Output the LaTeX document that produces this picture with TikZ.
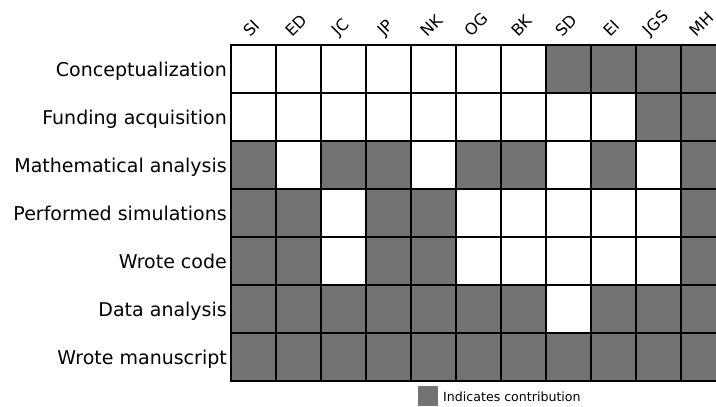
\documentclass[tikz,border=0pt]{standalone}
\usepackage{fontspec}
\setmainfont{DejaVu Sans}
\definecolor{cellgray}{RGB}{115,115,115}
\begin{document}
\begin{tikzpicture}[x=1pt,y=1pt,
  cell/.style={draw=black, line width=1.3pt, minimum width=45pt, minimum height=48pt,
    inner sep=0pt, outer sep=0pt, anchor=north west},
  rowlab/.style={anchor=base east, inner sep=0pt, font=\fontsize{19}{22}\selectfont},
  collab/.style={anchor=center, inner sep=0pt, rotate=45, font=\fontsize{16}{19}\selectfont},
  legbox/.style={fill=cellgray, minimum size=20pt, inner sep=0pt, outer sep=0pt, anchor=north west},
  legtext/.style={anchor=west, inner sep=0pt, font=\fontsize{12.6}{15}\selectfont}]
\useasboundingbox (0,0) rectangle (716,-407);
\clip (0,0) rectangle (716,-407);
% grid cells
\foreach \r/\row in {
  1/{0,0,0,0,0,0,0,1,1,1,1},
  2/{0,0,0,0,0,0,0,0,0,1,1},
  3/{1,0,1,1,0,1,1,0,1,0,1},
  4/{1,1,0,1,1,0,0,0,0,0,1},
  5/{1,1,0,1,1,0,0,0,0,0,1},
  6/{1,1,1,1,1,1,1,0,1,1,1},
  7/{1,1,1,1,1,1,1,1,1,1,1}} {
  \foreach \v [count=\c] in \row {
    \def\fillc{white}
    \ifnum\v=1 \def\fillc{cellgray}\fi
    \node[cell, fill=\fillc] (c\r-\c) at ({231+45*(\c-1)}, {-(45+48*(\r-1))}) {};
  }
}
% row labels
\foreach \r/\t in {1/Conceptualization, 2/Funding acquisition, 3/Mathematical analysis,
  4/Performed simulations, 5/Wrote code, 6/Data analysis, 7/Wrote manuscript} {
  \node[rowlab] (row\r) at (227, {-(69+48*(\r-1)+7.5)}) {\t};
}
% column labels
\foreach \c/\t/\w in {1/SI/0.93, 2/ED/1.402, 3/JC/0.993, 4/JP/0.898, 5/NK/1.404, 6/OG/1.562,
  7/BK/1.342, 8/SD/1.405, 9/EI/0.927, 10/JGS/1.705, 11/MH/1.615} {
  \node[collab] (col\c) at ({253.5+45*(\c-1)-2}, {-(37-0.354*(\w*16-1.5+11.7))}) {\t};
}
% legend
\node[legbox] (lbox) at (418,-386) {};
\node[legtext] (ltext) at (443,-396.5) {Indicates contribution};
\end{tikzpicture}
\end{document}
